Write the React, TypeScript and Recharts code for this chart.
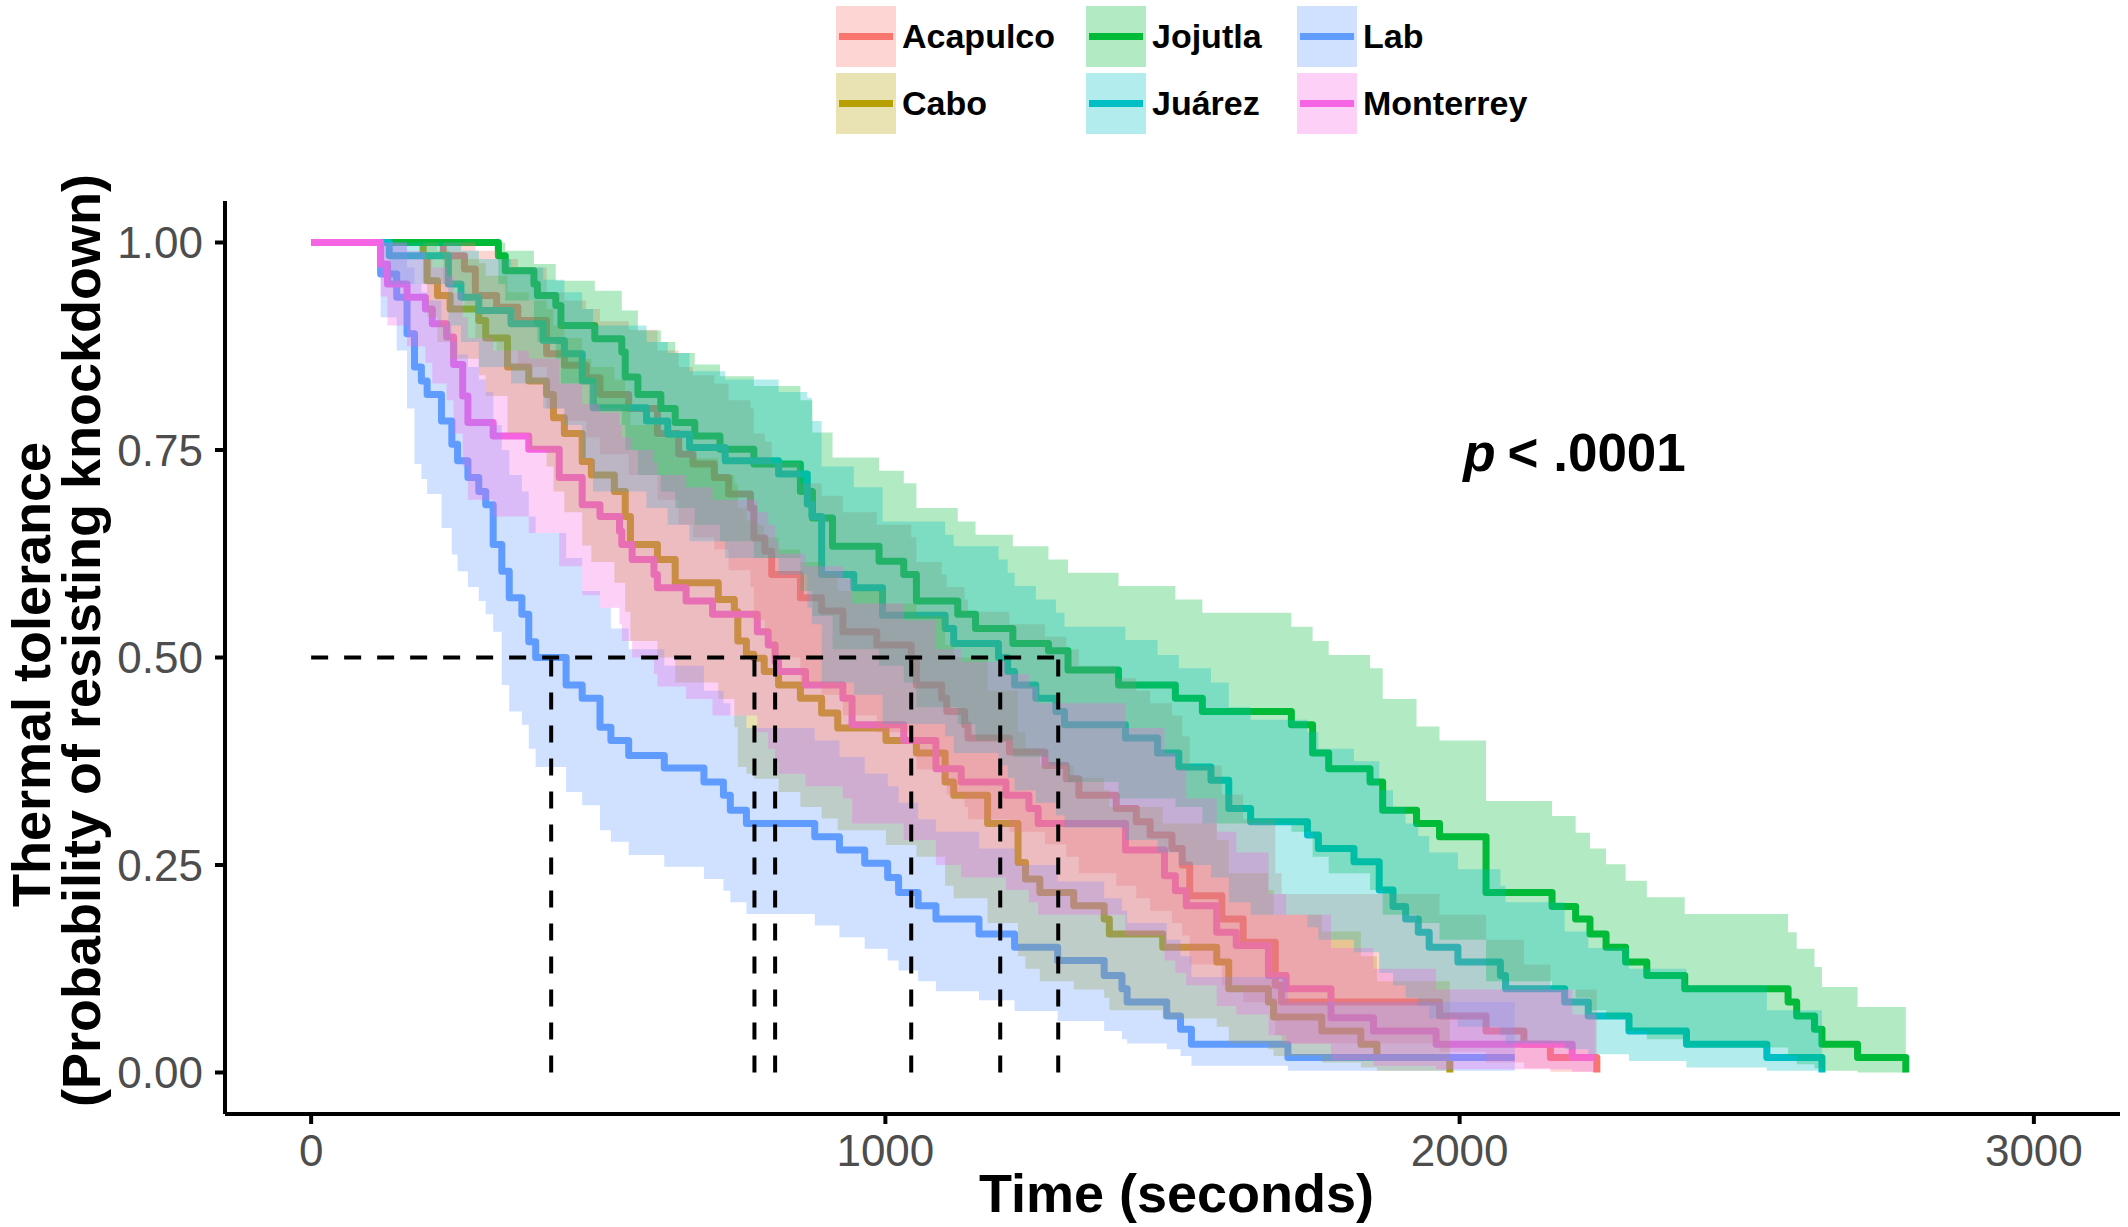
import React from 'react';
import {
  ComposedChart,
  Line,
  Area,
  XAxis,
  YAxis,
  Legend,
  Label,
  ReferenceLine,
  ReferenceDot,
} from 'recharts';

// Kaplan-Meier curves with 95% bands
const acapulcoTime = [0, 230, 267, 286, 323, 360, 410, 441, 479, 503, 553, 603, 640, 665, 702, 727, 765, 771, 790, 802, 852, 889, 926, 985, 1045, 1054, 1098, 1107, 1138, 1144, 1216, 1278, 1315, 1337, 1402, 1437, 1461, 1499, 1517, 1530, 1586, 1623, 1679, 1690, 1965, 2046, 2112, 2158, 2239];
const acapulcoSurv = [1, 0.984, 0.968, 0.936, 0.922, 0.906, 0.866, 0.852, 0.837, 0.817, 0.8, 0.77, 0.745, 0.733, 0.717, 0.697, 0.68, 0.644, 0.628, 0.6, 0.572, 0.556, 0.531, 0.515, 0.499, 0.467, 0.451, 0.435, 0.419, 0.403, 0.386, 0.37, 0.354, 0.334, 0.318, 0.302, 0.286, 0.27, 0.25, 0.213, 0.185, 0.157, 0.105, 0.085, 0.068, 0.05, 0.034, 0.018, 0];
const acapulcoLower = [1, 0.95, 0.925, 0.885, 0.87, 0.85, 0.8, 0.785, 0.765, 0.745, 0.72, 0.69, 0.66, 0.645, 0.63, 0.605, 0.585, 0.545, 0.53, 0.5, 0.47, 0.455, 0.43, 0.41, 0.395, 0.365, 0.35, 0.335, 0.32, 0.305, 0.29, 0.275, 0.26, 0.24, 0.225, 0.21, 0.195, 0.18, 0.165, 0.13, 0.105, 0.085, 0.045, 0.035, 0.025, 0.012, 0.005, 0.001, 0];
const acapulcoUpper = [1, 1, 1, 0.99, 0.98, 0.97, 0.94, 0.93, 0.92, 0.905, 0.895, 0.87, 0.85, 0.84, 0.83, 0.81, 0.8, 0.77, 0.76, 0.735, 0.71, 0.695, 0.675, 0.66, 0.645, 0.615, 0.6, 0.585, 0.57, 0.555, 0.54, 0.525, 0.51, 0.49, 0.475, 0.46, 0.445, 0.43, 0.405, 0.37, 0.335, 0.305, 0.24, 0.215, 0.19, 0.16, 0.13, 0.1, 0.1];

const caboTime = [0, 195, 202, 220, 242, 292, 304, 342, 379, 410, 422, 441, 472, 488, 528, 547, 556, 603, 634, 709, 737, 743, 758, 771, 789, 814, 852, 889, 917, 1001, 1054, 1104, 1119, 1178, 1231, 1244, 1269, 1328, 1381, 1390, 1483, 1577, 1598, 1667, 1676, 1760, 1828, 1856, 1983];
const caboSurv = [1, 0.984, 0.954, 0.936, 0.92, 0.906, 0.885, 0.85, 0.833, 0.817, 0.789, 0.77, 0.736, 0.72, 0.7, 0.67, 0.636, 0.618, 0.59, 0.57, 0.555, 0.52, 0.504, 0.499, 0.483, 0.467, 0.451, 0.433, 0.415, 0.4, 0.385, 0.35, 0.334, 0.3, 0.253, 0.233, 0.217, 0.201, 0.185, 0.167, 0.151, 0.133, 0.101, 0.085, 0.067, 0.05, 0.034, 0.018, 0];
const caboLower = [1, 0.95, 0.91, 0.88, 0.86, 0.84, 0.815, 0.77, 0.75, 0.73, 0.7, 0.675, 0.635, 0.615, 0.59, 0.555, 0.52, 0.5, 0.47, 0.45, 0.416, 0.368, 0.36, 0.354, 0.354, 0.338, 0.32, 0.306, 0.292, 0.274, 0.26, 0.225, 0.21, 0.18, 0.14, 0.125, 0.11, 0.1, 0.09, 0.075, 0.065, 0.055, 0.035, 0.028, 0.02, 0.012, 0.006, 0.002, 0];
const caboUpper = [1, 1, 1, 0.99, 0.98, 0.975, 0.96, 0.94, 0.93, 0.92, 0.9, 0.885, 0.86, 0.85, 0.835, 0.81, 0.78, 0.765, 0.74, 0.72, 0.71, 0.68, 0.665, 0.66, 0.645, 0.63, 0.615, 0.6, 0.58, 0.565, 0.55, 0.515, 0.5, 0.46, 0.41, 0.39, 0.37, 0.355, 0.34, 0.32, 0.3, 0.28, 0.24, 0.22, 0.19, 0.17, 0.14, 0.11, 0.11];

const jojutlaTime = [0, 326, 338, 388, 394, 426, 435, 494, 541, 547, 569, 609, 634, 668, 712, 771, 852, 873, 908, 989, 1032, 1054, 1126, 1157, 1222, 1284, 1318, 1406, 1505, 1552, 1707, 1744, 1772, 1844, 1866, 1925, 1965, 2046, 2161, 2202, 2227, 2255, 2289, 2326, 2392, 2572, 2587, 2618, 2631, 2693, 2777];
const jojutlaSurv = [1, 0.984, 0.966, 0.95, 0.936, 0.924, 0.9, 0.884, 0.868, 0.838, 0.817, 0.8, 0.783, 0.767, 0.751, 0.733, 0.7, 0.668, 0.634, 0.616, 0.6, 0.568, 0.552, 0.535, 0.517, 0.508, 0.485, 0.467, 0.451, 0.435, 0.419, 0.385, 0.366, 0.35, 0.316, 0.3, 0.284, 0.217, 0.2, 0.185, 0.167, 0.151, 0.133, 0.117, 0.101, 0.085, 0.068, 0.052, 0.034, 0.018, 0];
const jojutlaLower = [1, 0.95, 0.93, 0.9, 0.88, 0.86, 0.83, 0.8, 0.78, 0.75, 0.72, 0.7, 0.68, 0.66, 0.64, 0.62, 0.58, 0.55, 0.51, 0.49, 0.47, 0.44, 0.42, 0.4, 0.38, 0.37, 0.35, 0.33, 0.32, 0.3, 0.29, 0.26, 0.24, 0.22, 0.19, 0.18, 0.16, 0.11, 0.1, 0.09, 0.075, 0.065, 0.05, 0.04, 0.03, 0.02, 0.01, 0.005, 0.002, 0, 0];
const jojutlaUpper = [1, 1, 0.99, 0.974, 0.974, 0.954, 0.954, 0.942, 0.918, 0.918, 0.894, 0.88, 0.867, 0.853, 0.839, 0.827, 0.81, 0.771, 0.741, 0.725, 0.71, 0.68, 0.664, 0.648, 0.634, 0.618, 0.602, 0.586, 0.57, 0.554, 0.537, 0.52, 0.503, 0.487, 0.45, 0.417, 0.4, 0.327, 0.309, 0.289, 0.27, 0.251, 0.231, 0.211, 0.191, 0.169, 0.149, 0.127, 0.103, 0.079, 0.079];

const juarezTime = [0, 136, 239, 261, 292, 348, 404, 441, 472, 491, 584, 621, 659, 721, 814, 864, 872, 889, 945, 995, 1104, 1119, 1197, 1213, 1225, 1262, 1297, 1312, 1418, 1474, 1511, 1567, 1598, 1636, 1735, 1754, 1816, 1860, 1884, 1906, 1928, 1947, 1997, 2071, 2080, 2183, 2224, 2295, 2395, 2535, 2631];
const juarezSurv = [1, 0.984, 0.95, 0.934, 0.918, 0.902, 0.882, 0.866, 0.833, 0.801, 0.785, 0.769, 0.753, 0.737, 0.721, 0.685, 0.67, 0.6, 0.584, 0.551, 0.535, 0.517, 0.5, 0.483, 0.467, 0.451, 0.435, 0.419, 0.403, 0.385, 0.368, 0.352, 0.318, 0.302, 0.286, 0.27, 0.254, 0.22, 0.2, 0.185, 0.169, 0.151, 0.133, 0.117, 0.101, 0.085, 0.068, 0.05, 0.034, 0.018, 0];
const juarezLower = [1, 0.95, 0.9, 0.88, 0.85, 0.83, 0.8, 0.78, 0.74, 0.7, 0.68, 0.66, 0.64, 0.62, 0.6, 0.56, 0.54, 0.47, 0.455, 0.42, 0.405, 0.385, 0.37, 0.355, 0.34, 0.325, 0.31, 0.295, 0.28, 0.265, 0.25, 0.235, 0.205, 0.19, 0.175, 0.16, 0.145, 0.12, 0.105, 0.09, 0.08, 0.065, 0.055, 0.045, 0.035, 0.028, 0.022, 0.014, 0.006, 0.002, 0];
const juarezUpper = [1, 1, 1, 0.99, 0.98, 0.97, 0.955, 0.94, 0.92, 0.9, 0.88, 0.867, 0.845, 0.835, 0.82, 0.813, 0.785, 0.73, 0.705, 0.664, 0.648, 0.634, 0.618, 0.602, 0.586, 0.57, 0.554, 0.537, 0.521, 0.503, 0.487, 0.47, 0.44, 0.425, 0.41, 0.39, 0.375, 0.34, 0.32, 0.3, 0.285, 0.265, 0.245, 0.225, 0.205, 0.17, 0.15, 0.125, 0.105, 0.075, 0.075];

const labTime = [0, 121, 149, 167, 180, 192, 202, 227, 245, 255, 273, 292, 304, 317, 332, 345, 367, 379, 391, 444, 472, 503, 522, 553, 615, 684, 718, 730, 758, 877, 920, 964, 1004, 1023, 1057, 1088, 1163, 1225, 1300, 1381, 1412, 1421, 1490, 1514, 1533, 1701, 2096];
const labSurv = [1, 0.962, 0.934, 0.89, 0.85, 0.833, 0.817, 0.785, 0.757, 0.737, 0.717, 0.7, 0.684, 0.636, 0.604, 0.572, 0.552, 0.519, 0.5, 0.467, 0.451, 0.416, 0.4, 0.382, 0.367, 0.35, 0.334, 0.316, 0.3, 0.284, 0.268, 0.252, 0.235, 0.217, 0.201, 0.185, 0.167, 0.151, 0.135, 0.117, 0.101, 0.085, 0.068, 0.052, 0.034, 0.018, 0.018];
const labLower = [1, 0.91, 0.87, 0.8, 0.733, 0.715, 0.697, 0.656, 0.624, 0.604, 0.585, 0.568, 0.552, 0.531, 0.467, 0.435, 0.419, 0.39, 0.368, 0.338, 0.322, 0.292, 0.278, 0.262, 0.248, 0.233, 0.219, 0.205, 0.191, 0.177, 0.163, 0.149, 0.135, 0.123, 0.11, 0.098, 0.087, 0.074, 0.062, 0.05, 0.04, 0.035, 0.028, 0.02, 0.008, 0.002, 0.002];
const labUpper = [1, 1, 1, 0.97, 0.95, 0.94, 0.93, 0.9, 0.88, 0.865, 0.85, 0.835, 0.82, 0.78, 0.75, 0.72, 0.7, 0.67, 0.65, 0.62, 0.58, 0.56, 0.535, 0.51, 0.49, 0.46, 0.445, 0.43, 0.415, 0.4, 0.38, 0.36, 0.345, 0.325, 0.305, 0.29, 0.27, 0.25, 0.23, 0.21, 0.195, 0.18, 0.16, 0.14, 0.115, 0.085, 0.085];

const monterreyTime = [0, 121, 133, 167, 199, 211, 236, 248, 264, 273, 317, 379, 432, 472, 503, 537, 541, 559, 597, 603, 653, 699, 777, 796, 808, 814, 861, 926, 942, 1032, 1088, 1132, 1210, 1250, 1266, 1418, 1486, 1505, 1524, 1577, 1611, 1667, 1698, 1776, 1850, 1959, 2196, 2236];
const monterreySurv = [1, 0.974, 0.95, 0.934, 0.92, 0.902, 0.886, 0.853, 0.815, 0.783, 0.767, 0.751, 0.717, 0.684, 0.67, 0.652, 0.636, 0.618, 0.6, 0.584, 0.568, 0.552, 0.531, 0.515, 0.495, 0.483, 0.467, 0.451, 0.419, 0.4, 0.366, 0.35, 0.334, 0.318, 0.3, 0.268, 0.237, 0.219, 0.201, 0.169, 0.153, 0.117, 0.101, 0.066, 0.05, 0.034, 0.018, 0.018];
const monterreyLower = [1, 0.935, 0.9, 0.875, 0.855, 0.83, 0.81, 0.77, 0.73, 0.69, 0.67, 0.65, 0.61, 0.575, 0.56, 0.54, 0.52, 0.5, 0.48, 0.465, 0.45, 0.43, 0.41, 0.39, 0.375, 0.36, 0.345, 0.33, 0.3, 0.28, 0.25, 0.235, 0.22, 0.205, 0.19, 0.165, 0.135, 0.12, 0.105, 0.08, 0.07, 0.045, 0.035, 0.015, 0.008, 0.004, 0.001, 0.001];
const monterreyUpper = [1, 1, 1, 0.99, 0.98, 0.97, 0.96, 0.94, 0.91, 0.885, 0.87, 0.86, 0.83, 0.805, 0.795, 0.78, 0.765, 0.75, 0.735, 0.72, 0.705, 0.69, 0.675, 0.66, 0.64, 0.625, 0.61, 0.595, 0.565, 0.545, 0.51, 0.495, 0.48, 0.465, 0.445, 0.415, 0.385, 0.365, 0.33, 0.29, 0.265, 0.215, 0.19, 0.15, 0.125, 0.1, 0.07, 0.07];

const groupNames = ['Acapulco', 'Cabo', 'Jojutla', 'Juárez', 'Lab', 'Monterrey'];
const groupColors = ['#F8766D', '#B79F00', '#00BA38', '#00BFC4', '#619CFF', '#F564E3'];

// median survival times (dashed guides)
const medianTimes = [418, 772, 808, 1045, 1200, 1301];
const medianLevel = 0.5;

const xTicks = [0, 1000, 2000, 3000];
const yTicks = [0, 0.25, 0.5, 0.75, 1];
const pValueText = '< .0001';

const FONT = "'Liberation Sans', Arial, Helvetica, sans-serif";
const DASH = '17 16';

const buildRows = (time: number[], surv: number[], lower: number[], upper: number[]) =>
  time.map((t, i) => ({ t, s: surv[i], band: [lower[i], upper[i]] }));

const series = [
  buildRows(acapulcoTime, acapulcoSurv, acapulcoLower, acapulcoUpper),
  buildRows(caboTime, caboSurv, caboLower, caboUpper),
  buildRows(jojutlaTime, jojutlaSurv, jojutlaLower, jojutlaUpper),
  buildRows(juarezTime, juarezSurv, juarezLower, juarezUpper),
  buildRows(labTime, labSurv, labLower, labUpper),
  buildRows(monterreyTime, monterreySurv, monterreyLower, monterreyUpper),
].map((rows, i) => ({ name: groupNames[i], color: groupColors[i], rows }));

const legendColumns = [250, 211, 240];

const LegendBox = () => (
  <div style={{ display: 'grid', gridTemplateColumns: legendColumns.map((w) => `${w}px`).join(' '), gridAutoFlow: 'column', gridTemplateRows: '61px 61px', rowGap: 6, fontFamily: FONT }}>
    {series.map((s) => (
      <div key={s.name} style={{ display: 'flex', alignItems: 'center', height: 61 }}>
        <div style={{ width: 60, height: 61, background: s.color + '4D', position: 'relative' }}>
          <div style={{ position: 'absolute', left: 3, right: 3, top: 27, height: 7, background: s.color }} />
        </div>
        <span style={{ marginLeft: 6, fontSize: 34, fontWeight: 'bold', color: '#000', lineHeight: '61px' }}>{s.name}</span>
      </div>
    ))}
  </div>
);

const YTitle = (props: any) => {
  const vb = props.viewBox;
  const mid = vb.y + vb.height / 2;
  return (
    <g fontFamily={FONT} fontSize={54} fontWeight="bold" fill="#000">
      <text transform={`translate(50, ${mid + 17}) rotate(-90)`} textAnchor="middle">Thermal tolerance</text>
      <text transform={`translate(100, ${mid - 17}) rotate(-90)`} textAnchor="middle">(Probability of resisting knockdown)</text>
    </g>
  );
};

const XTitle = (props: any) => {
  const vb = props.viewBox;
  return (
    <text x={vb.x + vb.width / 2 + 4} y={vb.y + 98} textAnchor="middle" fontFamily={FONT} fontSize={54} fontWeight="bold" fill="#000">
      Time (seconds)
    </text>
  );
};

const PLabel = (props: any) => {
  const vb = props.viewBox;
  const cx = vb.x + (vb.width || 0) / 2;
  const cy = vb.y + (vb.height || 0) / 2;
  return (
    <text x={cx} y={cy + 21} textAnchor="middle" fontFamily={FONT} fontSize={53} fontWeight="bold" fill="#000">
      <tspan fontStyle="italic">p</tspan>
      <tspan dx={12}>{pValueText}</tspan>
    </text>
  );
};

export default function App() {
  return (
    <div style={{ position: 'absolute', left: 0, top: 0, width: 2128, height: 1227, background: '#fff', fontFamily: FONT }}>
      <ComposedChart width={2128} height={1227} margin={{ top: 201, right: 8, bottom: 0, left: 0 }}>
        <XAxis
          dataKey="t"
          type="number"
          domain={[-150, 3150]}
          ticks={xTicks}
          allowDataOverflow
          height={113}
          tickSize={10}
          tickMargin={11}
          axisLine={{ stroke: '#000', strokeWidth: 4 }}
          tickLine={{ stroke: '#000', strokeWidth: 4 }}
          tick={{ fill: '#4D4D4D', fontSize: 44 }}
        >
          <Label content={XTitle} />
        </XAxis>
        <YAxis
          type="number"
          domain={[-0.05, 1.05]}
          ticks={yTicks}
          allowDataOverflow
          width={225}
          tickSize={10}
          tickMargin={12}
          tickFormatter={(v: number) => v.toFixed(2)}
          axisLine={{ stroke: '#000', strokeWidth: 4 }}
          tickLine={{ stroke: '#000', strokeWidth: 4 }}
          tick={{ fill: '#4D4D4D', fontSize: 44 }}
        >
          <Label content={YTitle} />
        </YAxis>
        <Legend
          layout="vertical"
          verticalAlign="middle"
          align="center"
          wrapperStyle={{ top: 6, left: 836, width: 720 }}
          content={() => <LegendBox />}
        />
        {series.map((s) => (
          <Line
            key={`line-${s.name}`}
            data={s.rows}
            dataKey="s"
            name={s.name}
            type="stepAfter"
            stroke={s.color}
            strokeWidth={7}
            strokeLinejoin="round"
            dot={false}
            activeDot={false}
            zIndex={50}
            isAnimationActive={false}
          />
        ))}
        {series.map((s) => (
          <Area
            key={`band-${s.name}`}
            data={s.rows}
            dataKey="band"
            name={`${s.name} CI`}
            type="stepAfter"
            stroke="none"
            fill={s.color}
            fillOpacity={0.3}
            dot={false}
            activeDot={false}
            zIndex={100}
            isAnimationActive={false}
          />
        ))}
        <ReferenceLine
          segment={[{ x: 0, y: medianLevel }, { x: Math.max(...medianTimes), y: medianLevel }]}
          stroke="#000"
          strokeWidth={4}
          strokeDasharray={DASH}
          zIndex={600}
        />
        {medianTimes.map((t) => (
          <ReferenceLine
            key={`median-${t}`}
            segment={[{ x: t, y: 0 }, { x: t, y: medianLevel }]}
            stroke="#000"
            strokeWidth={4}
            strokeDasharray={DASH}
            zIndex={600}
          />
        ))}
        <ReferenceDot x={2200} y={0.75} r={1} fill="none" stroke="none" zIndex={600}>
          <Label content={PLabel} />
        </ReferenceDot>
      </ComposedChart>
    </div>
  );
}
